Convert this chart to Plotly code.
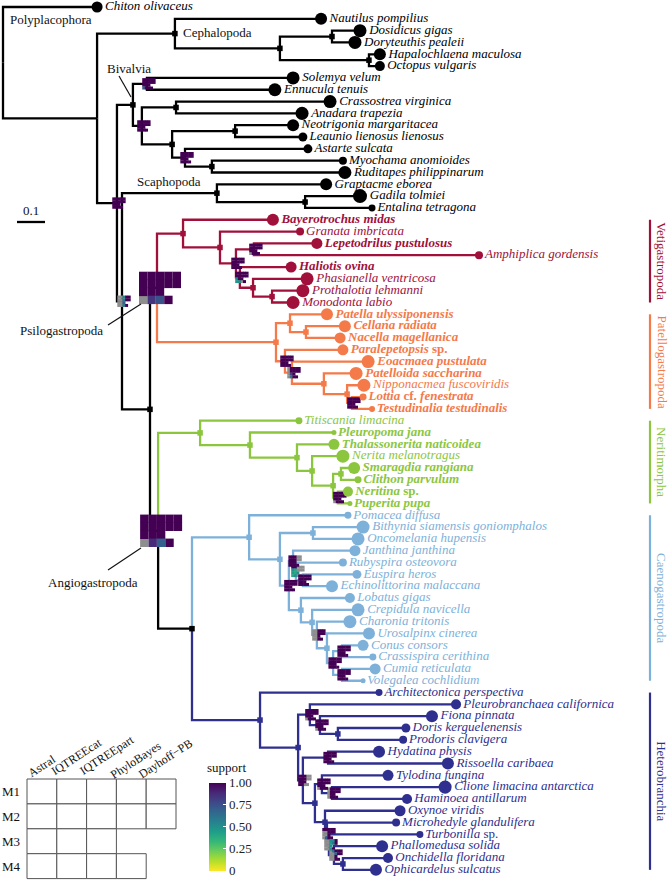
import plotly.graph_objects as go

W, H = 669, 880
PX_PER_UNIT = 280.0
ROOT_PX = 3.0
ROW0_PX = 7.0
ROW_PX = 11.82
FONT = "Liberation Serif"

# ---------------- data ----------------
tip_names = [
    "Chiton olivaceus", "Nautilus pompilius", "Dosidicus gigas", "Doryteuthis pealeii",
    "Hapalochlaena maculosa", "Octopus vulgaris",
    "Solemya velum", "Ennucula tenuis", "Crassostrea virginica", "Anadara trapezia",
    "Neotrigonia margaritacea", "Leaunio lienosus lienosus", "Astarte sulcata",
    "Myochama anomioides", "Ruditapes philippinarum",
    "Graptacme eborea", "Gadila tolmiei", "Entalina tetragona",
    "Bayerotrochus midas", "Granata imbricata", "Lepetodrilus pustulosus", "Amphiplica gordensis",
    "Haliotis ovina", "Phasianella ventricosa", "Prothalotia lehmanni", "Monodonta labio",
    "Patella ulyssiponensis", "Cellana radiata", "Nacella magellanica", "Paralepetopsis sp.",
    "Eoacmaea pustulata", "Patelloida saccharina", "Nipponacmea fuscoviridis",
    "Lottia cf. fenestrata", "Testudinalia testudinalis",
    "Titiscania limacina", "Pleuropoma jana", "Thalassonerita naticoidea", "Nerita melanotragus",
    "Smaragdia rangiana", "Clithon parvulum", "Neritina sp.", "Puperita pupa",
    "Pomacea diffusa", "Bithynia siamensis goniomphalos", "Oncomelania hupensis",
    "Janthina janthina", "Rubyspira osteovora", "Euspira heros", "Echinolittorina malaccana",
    "Lobatus gigas", "Crepidula navicella", "Charonia tritonis", "Urosalpinx cinerea",
    "Conus consors", "Crassispira cerithina", "Cumia reticulata", "Volegalea cochlidium",
    "Architectonica perspectiva", "Pleurobranchaea californica", "Fiona pinnata",
    "Doris kerguelenensis", "Prodoris clavigera", "Hydatina physis", "Rissoella caribaea",
    "Tylodina fungina", "Clione limacina antarctica", "Haminoea antillarum", "Oxynoe viridis",
    "Microhedyle glandulifera", "Turbonilla sp.", "Phallomedusa solida", "Onchidella floridana",
    "Ophicardelus sulcatus",
]
tip_parent = [
    "root", "C0", "C2", "C2", "C3", "C3",
    "BV1", "BV1", "BV3", "BV3", "BV5", "BV5", "BV6", "BV7", "BV7",
    "S0", "S1", "S1",
    "Veti", "V1", "V3", "V3", "V4", "V5", "V6", "V6",
    "P1", "P3", "P3", "P2", "P4", "P5", "P6", "P7", "P7",
    "Nerit", "NN1", "NN2", "NN3", "NN5", "NN5", "NN6", "NN6",
    "Caeno", "K2", "K2", "K4", "K4a", "K4b", "K4b", "K6", "K7", "K8", "K9",
    "K11", "K11", "K12", "K12",
    "Hetero", "H2", "H4", "H5", "H5", "H6", "H6", "H8", "H10", "H10", "H9",
    "HZ", "HW", "HV", "HV2", "HV2",
]
tip_depth = [
    0.336, 1.136, 1.275, 1.257, 1.346, 1.346,
    1.036, 0.971, 1.168, 1.068, 1.036, 1.071, 1.089, 1.214, 1.221,
    1.154, 1.275, 1.318,
    0.964, 1.061, 1.121, 1.700, 1.029, 1.086, 1.071, 1.036,
    1.157, 1.221, 1.204, 1.214, 1.304, 1.261, 1.289, 1.286, 1.318,
    1.057, 1.182, 1.182, 1.214, 1.254, 1.268, 1.232, 1.239,
    1.232, 1.286, 1.268, 1.257, 1.214, 1.264, 1.175, 1.239, 1.268, 1.239, 1.307,
    1.286, 1.321, 1.329, 1.286,
    1.343, 1.618, 1.532, 1.439, 1.429, 1.343, 1.589, 1.375, 1.579, 1.443, 1.418,
    1.404, 1.489, 1.354, 1.375, 1.332,
]
tip_completeness = [
    0.67, 0.78, 0.89, 0.89, 0.78, 0.56,
    0.89, 0.89, 0.89, 0.89, 0.78, 0.44, 0.44, 0.33, 0.89,
    0.78, 1.00, 0.22,
    0.78, 0.33, 0.67, 0.33, 0.67, 0.89, 0.89, 0.89,
    0.78, 0.78, 0.67, 0.67, 0.89, 0.89, 0.89, 0.22, 0.11,
    0.22, 0.00, 0.67, 0.89, 0.78, 0.22, 0.56, 0.00,
    0.22, 0.89, 0.89, 0.67, 0.33, 0.44, 0.78, 0.56, 0.89, 0.89, 0.78,
    0.67, 0.22, 0.67, 0.00,
    0.22, 0.56, 0.78, 0.44, 0.33, 0.78, 0.78, 0.67, 0.89, 0.56, 0.67,
    0.33, 0.22, 0.78, 0.56, 0.78,
]
tip_bold = [
    0, 0, 0, 0, 0, 0,
    0, 0, 0, 0, 0, 0, 0, 0, 0,
    0, 0, 0,
    1, 0, 1, 0, 1, 0, 0, 0,
    1, 1, 1, 1, 1, 1, 0, 1, 1,
    0, 1, 1, 0, 1, 1, 1, 1,
    0, 0, 0, 0, 0, 0, 0, 0, 0, 0, 0, 0, 0, 0, 0,
    0, 0, 0, 0, 0, 0, 0, 0, 0, 0, 0, 0, 0, 0, 0, 0,
]

node_names = [
    "root", "N1", "C0", "C1", "C2", "C3", "A", "Biv", "BV1", "BV2", "BV3", "BV4", "BV5",
    "BV6", "BV7", "B", "S0", "S1", "G", "Psilo", "Veti", "V1", "V2", "V3", "V4", "V5", "V6",
    "Patello", "P1", "P3", "P2", "P4", "P5", "P6", "P7", "Angio", "Nerit", "NN1", "NN2",
    "NN3", "NN4", "NN5", "NN6", "CH", "Caeno", "K1", "K2", "K3", "K4", "K4a", "K4b", "K6",
    "K7", "K8", "K9", "K10", "K11", "K12", "Hetero", "H1", "H2", "H4", "H5", "H3", "H6",
    "H7", "H8", "H10", "H9", "HZ", "HW", "HV", "HV2",
]
node_parent = [
    None, "root", "N1", "C0", "C1", "C1", "N1", "A", "Biv", "Biv", "BV2", "BV2", "BV4",
    "BV4", "BV6", "A", "B", "S0", "B", "G", "Psilo", "Veti", "V1", "V2", "V2", "V4", "V5",
    "Psilo", "Patello", "P1", "Patello", "P2", "P4", "P5", "P6", "G", "Angio", "Nerit", "NN1",
    "NN2", "NN3", "NN4", "NN4", "Angio", "CH", "Caeno", "K1", "K1", "K3", "K4", "K4a", "K3",
    "K6", "K7", "K8", "K9", "K10", "K10", "CH", "Hetero", "H1", "H2", "H4", "H1", "H3",
    "H3", "H7", "H8", "H7", "H9", "HZ", "HW", "HV",
]
node_depth = [
    0.000, 0.336, 0.614, 0.989, 1.175, 1.307, 0.407, 0.464, 0.514, 0.496, 0.618, 0.604, 0.829,
    0.650, 0.746, 0.425, 0.764, 1.079, 0.525, 0.550, 0.643, 0.775, 0.832, 0.896, 0.846, 0.893, 0.961,
    0.975, 1.025, 1.082, 1.007, 1.032, 1.146, 1.229, 1.246, 0.554, 0.704, 0.882, 1.050,
    1.104, 1.179, 1.207, 1.196, 0.675, 0.879, 0.989, 1.107, 1.021, 1.036, 1.046, 1.071, 1.064,
    1.104, 1.121, 1.157, 1.179, 1.211, 1.211, 0.918, 1.054, 1.096, 1.132, 1.196, 1.071, 1.161,
    1.114, 1.139, 1.175, 1.150, 1.157, 1.164, 1.182, 1.214,
]
unmarked_nodes = ["root", "N1"]

clade_names = ["Vetigastropoda", "Patellogastropoda", "Neritimorpha", "Caenogastropoda", "Heterobranchia"]
clade_root = ["Veti", "Patello", "Nerit", "Caeno", "Hetero"]
clade_colors = ["#A0103B", "#F47A4A", "#8CC63F", "#7EB1D9", "#2E2F8E"]

# support heat-boxes: rows M1..M4, columns = methods
support_methods = ["Astral", "IQTREEcat", "IQTREEpart", "PhyloBayes", "Dayhoff\u2212PB"]
support_matrices = ["M1", "M2", "M3", "M4"]
methods_per_matrix = [5, 5, 3, 4]
N = None
support_values = {
    "A":     [1] * 17,
    "BV1":   [1] * 13 + [0.7, 1, 1, 1],
    "BV2":   [1] * 17,
    "BV6":   [1] * 17,
    "B":     [N, N, 0.55, 1, 1, N, N, 0.6, 1, 1, N, N, 0.7, N, N, 0.6, 1],
    "Psilo": [1] * 13 + [N, 0.85, 0.75, 1],
    "Angio": [1] * 13 + [N, 0.88, 0.7, 1],
    "V2":    [1] * 17,
    "V3":    [1] * 13 + [N, 1, 1, 1],
    "V4":    [1, 1, 1, 1, 1, 1, 1, 1, 1, 1, 0.5, 1, 1, 0.45, 0.5, N, 1],
    "P2":    [1] * 17,
    "P4":    [N, 1, 1, 1, 1, N, 1, 1, 1, 1, N, 0.8, 1, N, 0.6, 1, 1],
    "P7":    [1] * 17,
    "NN6":   [1] * 13 + [N, 1, 1, 1],
    "K3":    [1] * 17,
    "K4":    [1, 1, 1, N, N, 1, 1, 1, N, N, 1, 1, 1, 1, 1, 1, 1],
    "K4a":   [1, 1, N, N, N, 0.5, 0.4, N, N, N, 0.45, 0.4, 0.5, 0.4, 0.5, N, N],
    "K4b":   [1] * 17,
    "K8":    [N, N, 1, 1, 1, N, N, 1, 1, 1, N, N, 1, N, N, 1, 1],
    "K10":   [1] * 17,
    "K11":   [1] * 17,
    "K12":   [1] * 17,
    "H2":    [1] * 13 + [N, 1, 1, 1],
    "H4":    [1] * 13 + [N, 1, 1, 1],
    "H6":    [1] * 17,
    "H3":    [1, 1, 1, N, N, 1, 1, 1, N, N, 1, 1, 1, 1, 1, N, N],
    "H8":    [1] * 13 + [N, 1, 1, 1],
    "H10":   [N, 1, 1, 1, 1, N, 1, 1, 1, 1, N, 1, 1, N, 1, 1, 1],
    "HZ":    [1, 1, 1, 1, 1, N, N, 1, 1, 1, N, N, 1, N, 0.7, 1, 1],
    "HW":    [N, N, 0.5, 0.5, 1, N, N, 0.45, 0.6, 1, N, N, 0.5, N, N, 0.5, 1],
    "HV":    [N, 0.6, 1, 1, 1, N, N, 0.7, 1, 1, N, N, 1, N, N, 1, 1],
}
large_support_nodes = ["Psilo", "Angio"]
scale_bar_length = 0.1

# ---------------- tree geometry ----------------
xd, yd, parent, children = {}, {}, {}, {}
for n, p, d in zip(node_names, node_parent, node_depth):
    xd[n] = d
    parent[n] = p
    children.setdefault(n, [])
    if p is not None:
        children.setdefault(p, []).append(n)
for i, (n, p, d) in enumerate(zip(tip_names, tip_parent, tip_depth)):
    xd[n] = d
    yd[n] = float(i)
    parent[n] = p
    children.setdefault(p, []).append(n)


def get_y(n):
    if n not in yd:
        ys = [get_y(c) for c in children[n]]
        yd[n] = sum(ys) / len(ys)
    return yd[n]


get_y("root")

group = {}
clade_of = {r: k for k, r in enumerate(clade_root)}


def assign(n, g):
    group[n] = g
    for c in children.get(n, []):
        assign(c, clade_of.get(c, g))


assign("root", None)


def color_of(g):
    return "#000000" if g is None else clade_colors[g]


def dx(px):
    return px / PX_PER_UNIT


def dy(px):
    return px / ROW_PX


fig = go.Figure()

# branches
groups = [None] + list(range(len(clade_names)))
for g in groups:
    xs, ys = [], []
    for n in list(node_names) + list(tip_names):
        p = parent[n]
        if p is None or group[n] != g:
            continue
        xs += [xd[p], xd[p], xd[n], None]
        ys += [yd[p], yd[n], yd[n], None]
    fig.add_trace(go.Scatter(x=xs, y=ys, mode="lines",
                             line=dict(color=color_of(g), width=2.3),
                             hoverinfo="skip", showlegend=False))

# node squares
for g in groups:
    nx, ny = [], []
    for n in node_names:
        if n in unmarked_nodes or n in support_values or group[n] != g:
            continue
        nx.append(xd[n])
        ny.append(yd[n])
    if nx:
        fig.add_trace(go.Scatter(x=nx, y=ny, mode="markers",
                                 marker=dict(symbol="square", size=5.5, color=color_of(g),
                                             opacity=1),
                                 hoverinfo="skip", showlegend=False))

# support boxes
cx_v, cy_v, cval, cs = [], [], [], []
gx_v, gy_v, gs = [], [], []
for n, vals in support_values.items():
    big = n in large_support_nodes
    cw, ch = (8.4, 8.0) if big else (2.6, 2.8)
    off = 3.0 if big else 2.0
    k = 0
    for r, cnt in enumerate(methods_per_matrix):
        for c in range(cnt):
            v = vals[k]
            k += 1
            px = off + (c - 2) * cw
            py = (r - 1.5) * ch
            xx = xd[n] + dx(px)
            yy = yd[n] + dy(py)
            size = cw + (0.0 if big else 0.4)
            if v is None:
                gx_v.append(xx); gy_v.append(yy); gs.append(size)
            else:
                cx_v.append(xx); cy_v.append(yy); cval.append(v); cs.append(size)

fig.add_trace(go.Scatter(x=gx_v, y=gy_v, mode="markers",
                         marker=dict(symbol="square", size=gs, color="#8E8E8E", opacity=1,
                                     line=dict(width=0)),
                         hoverinfo="skip", showlegend=False))
fig.add_trace(go.Scatter(
    x=cx_v, y=cy_v, mode="markers",
    marker=dict(symbol="square", size=cs, color=cval, colorscale="Viridis", opacity=1,
                reversescale=True, cmin=0, cmax=1, line=dict(width=0),
                showscale=True,
                colorbar=dict(x=209 / W, xanchor="left", xpad=0,
                              y=1 - 826.5 / H, yanchor="middle", ypad=0,
                              lenmode="pixels", len=88, thicknessmode="pixels",
                              thickness=17, outlinewidth=0,
                              tickvals=[0, 0.25, 0.5, 0.75, 1.0],
                              ticktext=["0", "0.25", "0.50", "0.75", "1.00"],
                              ticks="inside", ticklen=3, tickcolor="white",
                              tickfont=dict(family=FONT, size=13, color="#222"))),
    hoverinfo="skip", showlegend=False))


# tips
def fmt(name, bold):
    parts = []
    for w in name.split(" "):
        parts.append(w if w in ("sp.", "cf.") else "<i>" + w + "</i>")
    s = " ".join(parts)
    return "<b>" + s + "</b>" if bold else s


for g in groups:
    idx = [i for i, n in enumerate(tip_names) if group[n] == g]
    fig.add_trace(go.Scatter(
        x=[tip_depth[i] for i in idx], y=[float(i) for i in idx],
        mode="markers+text",
        marker=dict(size=[5 + 9 * tip_completeness[i] for i in idx], color=color_of(g),
                    opacity=1, line=dict(width=0)),
        text=[fmt(tip_names[i], tip_bold[i]) for i in idx],
        textposition="middle right",
        textfont=dict(family=FONT, size=13, color=color_of(g)),
        hoverinfo="skip", showlegend=False))

# scale bar
sb_x0 = dx(17 - ROOT_PX)
sb_y = dy(222 - ROW0_PX)
fig.add_trace(go.Scatter(x=[sb_x0, sb_x0 + scale_bar_length], y=[sb_y, sb_y], mode="lines",
                         line=dict(color="black", width=2.3), hoverinfo="skip", showlegend=False))

# clade bars on the right
bar_x = dx(650 - ROOT_PX)
annotations = []
for k, cname in enumerate(clade_names):
    rows = [i for i, n in enumerate(tip_names) if group[n] == k]
    fig.add_trace(go.Scatter(x=[bar_x, bar_x], y=[min(rows), max(rows)], mode="lines",
                             line=dict(color=clade_colors[k], width=2.2),
                             hoverinfo="skip", showlegend=False))
    annotations.append(dict(x=dx(662 - ROOT_PX), y=(min(rows) + max(rows)) / 2, xref="x", yref="y",
                            text=cname, textangle=90, showarrow=False,
                            font=dict(family=FONT, size=13, color=clade_colors[k])))


def pp(x, y):
    return x / W, 1 - y / H


def ann(text, x, y, xanchor="center", yanchor="middle", size=13, angle=0):
    px_, py_ = pp(x, y)
    annotations.append(dict(x=px_, y=py_, xref="paper", yref="paper", text=text,
                            xanchor=xanchor, yanchor=yanchor, showarrow=False,
                            textangle=angle, font=dict(family=FONT, size=size, color="#111")))


ann("0.1", 31, 211)
ann("Polyplacophora", 8, 20, xanchor="left")
ann("Cephalopoda", 181, 33, xanchor="left")
ann("Bivalvia", 129, 68)
ann("Scaphopoda", 135, 181, xanchor="left")
ann("Psilogastropoda", 61, 330)
ann("Angiogastropoda", 93, 582)
ann("support", 226, 767, size=13)

shapes = []


def seg(x0, y0, x1, y1, color="#111", width=1.2):
    a = pp(x0, y0)
    b = pp(x1, y1)
    shapes.append(dict(type="line", xref="paper", yref="paper", x0=a[0], y0=a[1],
                       x1=b[0], y1=b[1], line=dict(color=color, width=width)))


seg(119, 76, 131, 97)
seg(108, 325, 141, 304)
seg(108, 570, 141, 548)

# legend grid of methods x matrices
gx0, gy0, cwp, chp = 27, 779, 29.8, 24.9
for r, cnt in enumerate(methods_per_matrix):
    for c in range(cnt):
        a = pp(gx0 + c * cwp, gy0 + r * chp)
        b = pp(gx0 + (c + 1) * cwp, gy0 + (r + 1) * chp)
        shapes.append(dict(type="rect", xref="paper", yref="paper", x0=a[0], y0=b[1],
                           x1=b[0], y1=a[1], line=dict(color="#555", width=1),
                           fillcolor="white"))
    ann(support_matrices[r], 11, gy0 + (r + 0.5) * chp)
label_centers = [(42, 766), (76, 757), (107, 755), (136, 760), (165, 759)]
for m, (sx, sy) in zip(support_methods, label_centers):
    ann(m, sx, sy, size=12, angle=-33)

fig.update_layout(
    width=W, height=H, margin=dict(l=0, r=0, t=0, b=0),
    paper_bgcolor="white", plot_bgcolor="white", showlegend=False,
    xaxis=dict(range=[-ROOT_PX / PX_PER_UNIT, (W - ROOT_PX) / PX_PER_UNIT], visible=False),
    yaxis=dict(range=[(H - ROW0_PX) / ROW_PX, -ROW0_PX / ROW_PX], visible=False),
    annotations=annotations, shapes=shapes,
)
fig.write_html("out.html", config={"displayModeBar": False},
               post_script="document.body.style.margin='0px';document.body.style.padding='0px';")
